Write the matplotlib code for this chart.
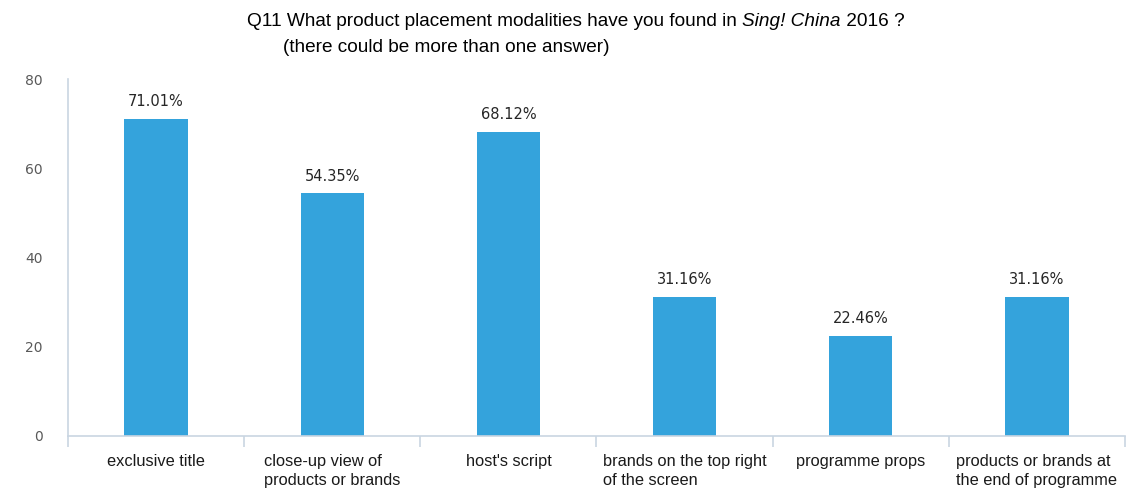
import numpy as np
import matplotlib.pyplot as plt

categories = ["exclusive title", "close-up view of\nproducts or brands", "host's script",
              "brands on the top right\nof the screen", "programme props",
              "products or brands at\nthe end of programme"]
values = [71.01, 54.35, 68.12, 31.16, 22.46, 31.16]
yticks = [0, 20, 40, 60, 80]

bar_color = "#34a3dc"
axis_color = "#c9d5e2"

fig = plt.figure(figsize=(11.31, 4.88), dpi=100)
ax = fig.add_axes([0.0601, 0.1066, 0.9346, 0.7315])

x = np.arange(len(categories))
bars = ax.bar(x, values, width=0.36, color=bar_color)

for xi, v in zip(x, values):
    ax.annotate(f"{v:.2f}%", xy=(xi, v), xytext=(0, 7), textcoords="offset points",
                ha="center", va="bottom", fontsize=10.5, color="#262626",
                family="DejaVu Sans")

ax.set_xlim(-0.5, len(categories) - 0.5)
ax.set_ylim(0, 80)
ax.set_yticks(yticks)
ax.tick_params(axis="y", length=0, pad=18, labelsize=10, labelcolor="#595959")
for lab in ax.get_yticklabels():
    lab.set_family("DejaVu Sans")

ax.set_xticks(x)
ax.set_xticklabels(categories, fontsize=11.8, family="Liberation Sans",
                   multialignment="left", color="#1a1a1a", linespacing=1.35)
ax.tick_params(axis="x", which="major", length=0, pad=13)
ax.set_xticks(np.arange(-0.5, len(categories)), minor=True)
ax.tick_params(axis="x", which="minor", length=8, color=axis_color, width=1.2)

for side in ["top", "right"]:
    ax.spines[side].set_visible(False)
for side in ["left", "bottom"]:
    ax.spines[side].set_color(axis_color)
    ax.spines[side].set_linewidth(1.2)
ax.spines["left"].set_bounds(0, 80)

# title with italic show name
ty = 1 - 22 / 488
t1 = fig.text(247 / 1131, ty, "Q11 What product placement modalities have you found in ",
              fontsize=13.7, family="Liberation Sans", va="center", ha="left")
t2 = fig.text(0, 0, "Sing! China", fontsize=13.7, family="Liberation Sans", style="italic",
              va="center", ha="left")
t3 = fig.text(0, 0, " 2016 ?", fontsize=13.7, family="Liberation Sans", va="center", ha="left")
fig.canvas.draw()
r = fig.canvas.get_renderer()
inv = fig.transFigure.inverted()
bb1 = t1.get_window_extent(r)
t2.set_position((inv.transform((bb1.x1, 0))[0], ty))
bb2 = t2.get_window_extent(r)
t3.set_position((inv.transform((bb2.x1, 0))[0], ty))
fig.text(283 / 1131, 1 - 47 / 488, "(there could be more than one answer)",
         fontsize=13.7, family="Liberation Sans", va="center", ha="left")

fig.savefig("out.png", dpi=100)
